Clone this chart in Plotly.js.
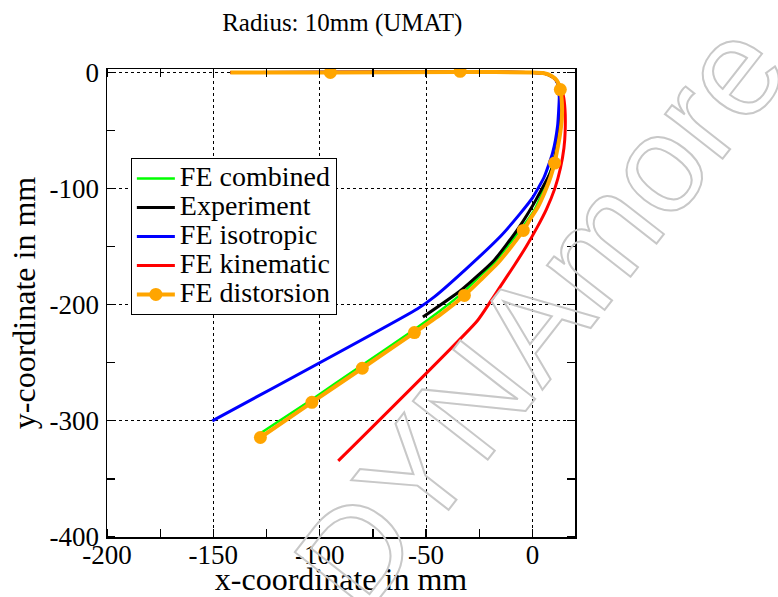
<!DOCTYPE html>
<html><head><meta charset="utf-8">
<script src="https://cdn.plot.ly/plotly-3.0.1.min.js"></script>
<style>body{margin:0;background:#fff}</style>
</head><body><div id="chart" style="width:778px;height:597px"></div>
<script>
const xTickVals = [-200, -150, -100, -50, 0];
const xTickText = ['-200', '-150', '-100', '-50', '0'];
const yTickVals = [-400, -300, -200, -100, 0];
const yTickText = ['-400', '-300', '-200', '-100', '0'];

const seriesNames = ['FE combined', 'Experiment', 'FE isotropic', 'FE kinematic', 'FE distorsion'];

const combinedX = [-142, 0, 6, 10, 12.3, 13.2, 13, 12, 10, 7.5, 5, 1, -5, -11, -17, -25, -33, -44, -56, -80.5, -104, -128.6];
const combinedY = [0, 0, -1, -4.5, -10, -20, -40, -58, -76, -90, -102, -118, -134, -148, -162, -176, -190, -206, -222, -252.5, -282, -311.5];

const experimentX = [-142, 0, 6, 10, 12, 12.8, 12.5, 11, 8.5, 4.5, 0, -7.2, -18, -33.6, -51.5];
const experimentY = [0, 0, -1, -4.5, -10, -25, -45, -68, -86, -100, -115, -135.7, -161.6, -187.5, -210.6];

const isotropicX = [-142, 0, 6, 10, 12, 12.6, 11.8, 9.5, 5.5, 0, -6, -15, -30.5, -46, -54, -150.5];
const isotropicY = [0, 0, -1, -4.5, -10, -20.5, -46, -69, -90, -108, -122, -141, -168, -193, -203.4, -300];

const kinematicX = [-142, 0, 6, 10, 12.5, 14.5, 15.3, 15.4, 14.8, 13.2, 10.5, 6.5, 2, -3, -8.5, -15, -20, -26, -91.3];
const kinematicY = [0, 0, -1, -4.5, -10, -20, -32, -50, -65, -82, -100, -118, -134, -150, -166, -184, -198, -214, -334.5];

const distorsionX = [-142, -95, -34, 0, 5, 9, 11.5, 13.1, 13.8, 13.8, 12.8, 11.5, 10.4, 8.5, 6, 2.5, -1, -4.3, -10, -16.5, -24, -32, -43, -55.5, -80, -103.7, -127.9];
const distorsionY = [0, 0, 0.5, 0, -0.5, -3, -7, -14.7, -25, -40, -55, -68, -78, -90, -102, -116, -126, -136, -150, -164.5, -178, -192, -208, -224, -254.7, -284, -314.3];

const distorsionMarkX = [-95, -34, 13.1, 10.4, -4.3, -32, -55.5, -80, -103.7, -127.9];
const distorsionMarkY = [0, 1, -14.7, -78, -136, -192, -224, -254.7, -284, -314.3];

const colors = ['#00ff00', '#000000', '#0000ff', '#ff0000', '#ffa500'];
const serif = '"Liberation Serif", "Times New Roman", Times, serif';
const legendLabel = s => '<span style="font-size:28px">' + s + '</span>';

const traces = [
  {x: combinedX, y: combinedY, name: legendLabel(seriesNames[0]), mode: 'lines', line: {color: colors[0], width: 2.5, shape: 'spline', smoothing: 0.5}},
  {x: experimentX, y: experimentY, name: legendLabel(seriesNames[1]), mode: 'lines', line: {color: colors[1], width: 3, shape: 'spline', smoothing: 0.5}},
  {x: isotropicX, y: isotropicY, name: legendLabel(seriesNames[2]), mode: 'lines', line: {color: colors[2], width: 3, shape: 'spline', smoothing: 0.5}},
  {x: kinematicX, y: kinematicY, name: legendLabel(seriesNames[3]), mode: 'lines', line: {color: colors[3], width: 3, shape: 'spline', smoothing: 0.5}},
  {x: distorsionX, y: distorsionY, name: seriesNames[4], mode: 'lines', line: {color: colors[4], width: 4, shape: 'spline', smoothing: 0.5}, showlegend: false},
  {x: distorsionMarkX, y: distorsionMarkY, name: seriesNames[4], mode: 'markers', marker: {color: colors[4], size: 13}, showlegend: false},
  {x: [null], y: [null], name: legendLabel(seriesNames[4]), mode: 'lines+markers', line: {color: colors[4], width: 4}, marker: {color: colors[4], size: 13}}
];

const minorCommon = {ticks: 'inside', ticklen: 8, tickwidth: 1.2, tickcolor: '#000', showgrid: false};
const axisCommon = {
  showline: true, linecolor: '#000', linewidth: 1.5, mirror: 'allticks',
  showgrid: true, gridcolor: '#000', griddash: 'dot', gridwidth: 1,
  zeroline: false, ticks: '',
  tickfont: {family: serif, size: 27, color: '#000'}
};

const layout = {
  width: 778, height: 597,
  margin: {l: 107, r: 203, t: 69, b: 60},
  paper_bgcolor: '#fff', plot_bgcolor: '#fff',
  font: {family: serif, color: '#000'},
  showlegend: true,
  title: {text: 'Radius: 10mm (UMAT)', font: {family: serif, size: 25, color: '#000'}, x: 0.44, xanchor: 'center', y: 0.978, yanchor: 'top'},
  xaxis: Object.assign({}, axisCommon, {
    range: [-200, 20], tickvals: xTickVals, ticktext: xTickText,
    minor: Object.assign({}, minorCommon, {dtick: 25, tick0: 0}),
    ticklabelstandoff: -7,
    title: {text: 'x-coordinate in mm', font: {family: serif, size: 32, color: '#000'}, standoff: 0}
  }),
  yaxis: Object.assign({}, axisCommon, {
    range: [-400, 3], tickvals: yTickVals, ticktext: yTickText,
    minor: Object.assign({}, minorCommon, {dtick: 50, tick0: 0}),
    ticklabelstandoff: 1,
    title: {text: 'y-coordinate in mm', font: {family: serif, size: 32, color: '#000'}, standoff: 4}
  }),
  legend: {
    x: 0.051, y: 0.81, xanchor: 'left', yanchor: 'top',
    bgcolor: '#fff', bordercolor: '#000', borderwidth: 1,
    font: {family: serif, size: 20, color: '#000'},
    itemwidth: 38, tracegroupgap: 0
  },
  annotations: [{
    text: 'DYNAmore', xref: 'paper', yref: 'paper', x: 0.925, y: 0.474,
    xanchor: 'center', yanchor: 'middle',
    showarrow: false, textangle: -52,
    font: {family: '"Liberation Sans", Arial, sans-serif', size: 138, color: 'rgba(0,0,0,0)'}
  }]
};

Plotly.newPlot('chart', traces, layout, {displayModeBar: false, staticPlot: true}).then(() => {
  document.querySelectorAll('.annotation-text').forEach(t => {
    t.style.fill = 'none';
    t.style.stroke = '#c8c8c8';
    t.style.strokeWidth = '2px';
  });
});
</script>
</body></html>
